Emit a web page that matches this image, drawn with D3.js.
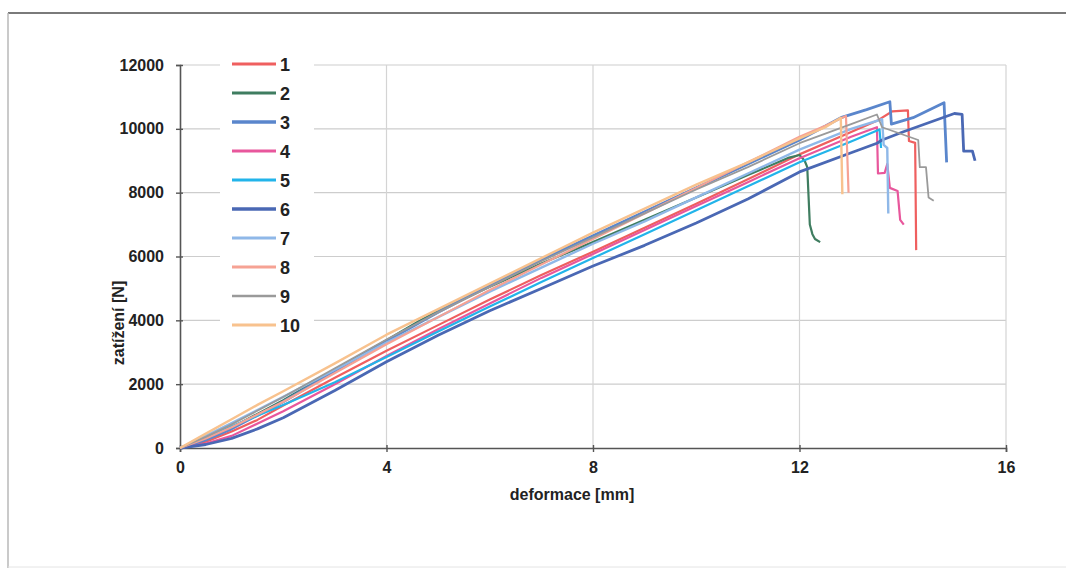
<!DOCTYPE html>
<html>
<head>
<meta charset="utf-8">
<script src="https://cdn.jsdelivr.net/npm/d3@7"></script>
<style>
  body { margin: 0; background: #fff; }
  svg { display: block; font-family: "Liberation Sans", Arial, sans-serif; }
</style>
</head>
<body>
<svg id="chart" width="1066" height="570"></svg>
<script>
// deformation [mm], load [N] pairs
var s1 = [[0,0],[0.5,200],[1,520],[1.5,880],[2,1330],[3,2200],[4,3050],[5,3850],[6,4650],[7,5420],[8,6150],[9,6900],[10,7650],[11,8420],[12,9200],[13,9900],[13.5,10250],[13.8,10550],[14.1,10580],[14.12,9620],[14.24,9560],[14.26,6200]];
var s2 = [[0,0],[0.5,280],[1,640],[2,1500],[3,2450],[4,3380],[4.6,3950],[5,4300],[6,5050],[7,5780],[8,6450],[9,7150],[10,7850],[11,8550],[11.8,9100],[12,9180],[12.1,9000],[12.15,8800],[12.2,7000],[12.25,6700],[12.3,6550],[12.4,6450]];
var s3 = [[0,0],[0.5,250],[1,600],[2,1450],[3,2400],[4,3350],[5,4250],[6,5100],[7,5900],[8,6650],[9,7400],[10,8150],[11,8900],[12,9650],[12.8,10350],[13.3,10600],[13.75,10850],[13.78,10150],[14.2,10350],[14.8,10820],[14.85,8950]];
var s4 = [[0,0],[0.5,140],[1,380],[2,1150],[3,2000],[4,2880],[5,3720],[6,4530],[7,5330],[8,6080],[9,6830],[10,7580],[11,8330],[12,9080],[13,9750],[13.5,10050],[13.52,8600],[13.65,8620],[13.7,8900],[13.75,8150],[13.9,8050],[13.95,7150],[14.02,7000]];
var s5 = [[0,0],[0.5,330],[1,680],[2,1350],[3,2060],[4,2850],[5,3650],[6,4430],[7,5200],[8,5950],[9,6700],[10,7450],[11,8200],[12,8950],[13,9600],[13.55,9980],[13.58,9400]];
var s6 = [[0,0],[0.5,110],[1,300],[1.5,600],[2,950],[3,1800],[4,2700],[5,3530],[6,4300],[7,5000],[8,5700],[9,6350],[10,7050],[11,7800],[12,8650],[13,9250],[13.5,9550],[13.6,9650],[14,9900],[15,10480],[15.15,10450],[15.18,9300],[15.35,9300],[15.4,9000]];
var s7 = [[0,0],[0.5,380],[1,780],[2,1600],[3,2450],[4,3300],[5,4100],[6,4900],[7,5650],[8,6400],[9,7100],[10,7850],[11,8600],[12,9350],[13,10000],[13.6,10300],[13.63,9500],[13.7,9400],[13.72,7350]];
var s8 = [[0,0],[0.5,300],[1,650],[2,1450],[3,2350],[4,3250],[5,4100],[6,4950],[7,5750],[8,6550],[9,7350],[10,8150],[11,8950],[12,9750],[12.5,10100],[12.9,10400],[12.95,8000]];
var s9 = [[0,0],[0.5,350],[1,740],[2,1600],[3,2500],[4,3400],[5,4250],[6,5050],[7,5850],[8,6600],[9,7350],[10,8100],[11,8800],[12,9550],[13,10150],[13.5,10450],[13.6,10050],[14.3,9650],[14.33,8800],[14.45,8800],[14.5,7850],[14.6,7750]];
var s10 = [[0,0],[0.5,450],[1,900],[1.5,1350],[2,1780],[3,2650],[4,3550],[5,4350],[6,5150],[7,5950],[8,6750],[9,7500],[10,8250],[11,8950],[12,9700],[12.5,10050],[12.8,10350],[12.83,7950]];

var seriesNames = ["1", "2", "3", "4", "5", "6", "7", "8", "9", "10"];
var seriesData = [s1, s2, s3, s4, s5, s6, s7, s8, s9, s10];
var seriesColors = ["#ef5f5f", "#3f7d60", "#5a86cc", "#e8579c", "#22b4ea", "#4a68b4", "#8fb8e8", "#f6a294", "#9a9a9a", "#f8c28e"];
var seriesWidths = [2.2, 2.2, 2.8, 2.2, 2.2, 2.8, 2.4, 2.2, 1.8, 2.4];

var xTicks = [0, 4, 8, 12, 16];
var yTicks = [0, 2000, 4000, 6000, 8000, 10000, 12000];

var svg = d3.select("#chart");

// outer frame
svg.append("line").attr("x1", 8).attr("x2", 1066).attr("y1", 13).attr("y2", 13)
    .attr("stroke", "#7a7a7a").attr("stroke-width", 2);
svg.append("line").attr("x1", 8).attr("x2", 8).attr("y1", 13).attr("y2", 568)
    .attr("stroke", "#b8b8b8").attr("stroke-width", 1.5);
svg.append("line").attr("x1", 8).attr("x2", 1066).attr("y1", 567).attr("y2", 567)
    .attr("stroke", "#e4e4e4").attr("stroke-width", 1);

var x = d3.scaleLinear().domain([0, 16]).range([180, 1006]);
var y = d3.scaleLinear().domain([0, 12000]).range([448, 65]);

// grid
svg.append("g").selectAll("line").data(yTicks.slice(1)).join("line")
    .attr("x1", x(0)).attr("x2", x(16))
    .attr("y1", d => y(d)).attr("y2", d => y(d))
    .attr("stroke", "#cdcdcd").attr("stroke-width", 1.2);
svg.append("g").selectAll("line").data(xTicks.slice(1)).join("line")
    .attr("x1", d => x(d)).attr("x2", d => x(d))
    .attr("y1", y(0)).attr("y2", y(12000))
    .attr("stroke", "#d4d4d4").attr("stroke-width", 1.2);

// axes
var xAxis = d3.axisBottom(x).tickValues(xTicks).tickFormat(d3.format("d")).tickSize(4).tickPadding(10);
var yAxis = d3.axisLeft(y).tickValues(yTicks).tickFormat(d3.format("d")).tickSize(4).tickPadding(12);

var gx = svg.append("g").attr("transform", "translate(0," + y(0) + ")").call(xAxis);
var gy = svg.append("g").attr("transform", "translate(" + x(0) + ",0)").call(yAxis);
[gx, gy].forEach(function (g) {
    g.select(".domain").attr("stroke", "#555").attr("stroke-width", 1.6);
    g.selectAll(".tick line").attr("stroke", "#555").attr("stroke-width", 1.4);
    g.selectAll(".tick text").attr("fill", "#222")
        .style("font-size", "16px").style("font-weight", "bold")
        .style("font-family", "'Liberation Sans', Arial, sans-serif");
});
gx.selectAll(".tick line").attr("y1", -3);
gy.selectAll(".tick line").attr("x1", 3);

// axis titles
svg.append("text").attr("x", 572).attr("y", 500).attr("text-anchor", "middle")
    .style("font-size", "16px").style("font-weight", "bold").attr("fill", "#222")
    .text("deformace [mm]");
svg.append("text").attr("transform", "translate(124,323) rotate(-90)").attr("text-anchor", "middle")
    .style("font-size", "16px").style("font-weight", "bold").attr("fill", "#222")
    .text("zatížení [N]");

// series
var line = d3.line().x(d => x(d[0])).y(d => y(d[1]));
svg.append("g").selectAll("path").data(seriesData).join("path")
    .attr("d", line)
    .attr("fill", "none")
    .attr("stroke", (d, i) => seriesColors[i])
    .attr("stroke-width", (d, i) => seriesWidths[i])
    .attr("stroke-linejoin", "round");

// legend
var legend = svg.append("g");
legend.append("rect").attr("x", 220).attr("y", 52).attr("width", 94).attr("height", 287).attr("fill", "#fff");
var items = legend.selectAll("g").data(seriesNames).join("g")
    .attr("transform", (d, i) => "translate(232," + (64 + i * 29) + ")");
items.append("line").attr("x1", 0).attr("x2", 44).attr("y1", 0).attr("y2", 0)
    .attr("stroke", (d, i) => seriesColors[i])
    .attr("stroke-width", (d, i) => seriesWidths[i] + 0.8);
items.append("text").attr("x", 48).attr("y", 7)
    .style("font-size", "18px").style("font-weight", "bold").attr("fill", "#222")
    .text(d => d);
</script>
</body>
</html>
